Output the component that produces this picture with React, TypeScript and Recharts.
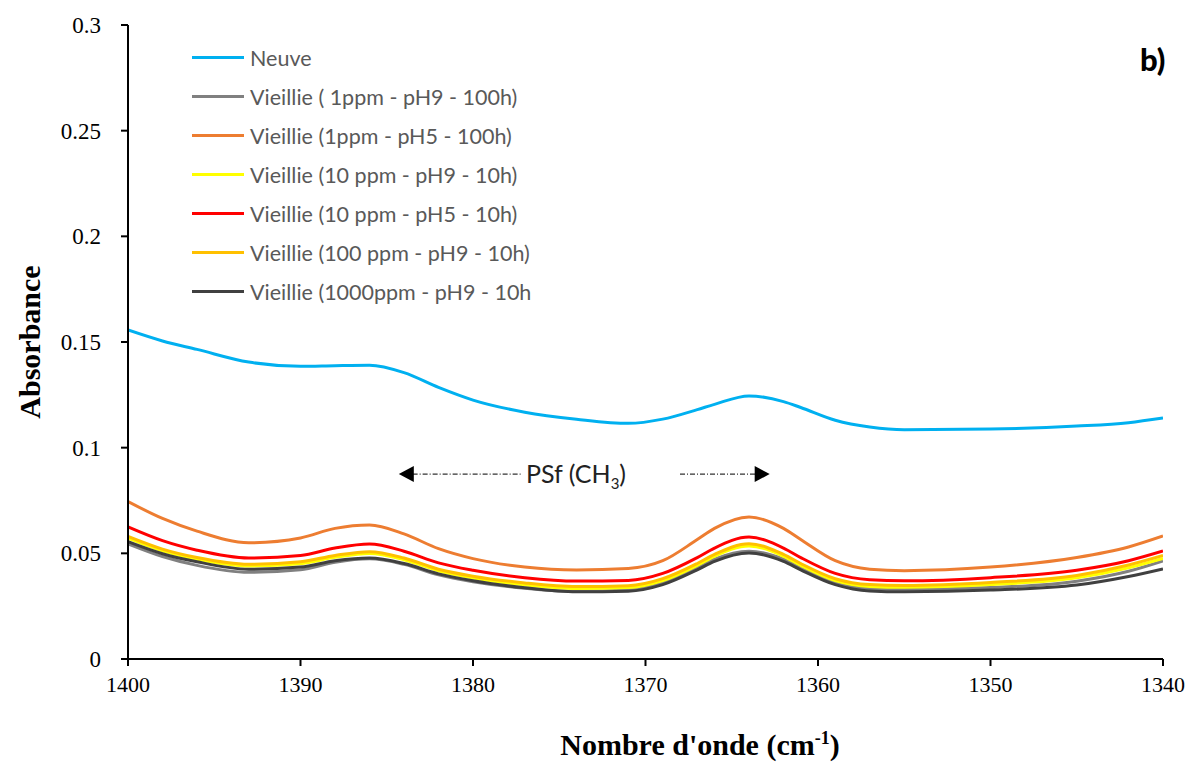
import { LineChart, Line, XAxis, YAxis, ReferenceLine, ReferenceDot } from "recharts"

// wavenumbers (cm-1)
const wavenumbers = [1400, 1398, 1396, 1393, 1390, 1388, 1386, 1384, 1382, 1380, 1377, 1374, 1371, 1369, 1367, 1366, 1364, 1362, 1361, 1359, 1357, 1355, 1350, 1345, 1342, 1340]

const neuve = [0.1557, 0.1505, 0.1465, 0.1405, 0.1385, 0.1388, 0.139, 0.1355, 0.1285, 0.1225, 0.1168, 0.1135, 0.1115, 0.1135, 0.118, 0.1205, 0.1245, 0.1218, 0.119, 0.113, 0.1098, 0.1085, 0.1088, 0.1102, 0.1118, 0.114]
const v1ppmPH9 = [0.0545, 0.0485, 0.0443, 0.041, 0.0422, 0.0458, 0.0474, 0.0448, 0.0398, 0.0366, 0.0335, 0.032, 0.0326, 0.036, 0.0432, 0.0472, 0.051, 0.0472, 0.0432, 0.0362, 0.0334, 0.033, 0.0338, 0.0368, 0.0415, 0.0464]
const v1ppmPH5 = [0.0745, 0.0665, 0.0605, 0.055, 0.0573, 0.0618, 0.0634, 0.0592, 0.0522, 0.0475, 0.0435, 0.0421, 0.0428, 0.0465, 0.0565, 0.0618, 0.0672, 0.0618, 0.0565, 0.0465, 0.0425, 0.0418, 0.0435, 0.048, 0.053, 0.0582]
const v10ppmPH9 = [0.0572, 0.0512, 0.0472, 0.044, 0.0451, 0.0481, 0.0499, 0.047, 0.0417, 0.0383, 0.0351, 0.0334, 0.0338, 0.0371, 0.0443, 0.0486, 0.0535, 0.0486, 0.0443, 0.0371, 0.0343, 0.0339, 0.0352, 0.0384, 0.0432, 0.0476]
const v10ppmPH5 = [0.0625, 0.056, 0.0515, 0.0478, 0.049, 0.0525, 0.0544, 0.051, 0.0455, 0.042, 0.0385, 0.0369, 0.0372, 0.0405, 0.048, 0.0525, 0.0577, 0.0525, 0.048, 0.0405, 0.0375, 0.037, 0.0385, 0.042, 0.0465, 0.0511]
const v100ppmPH9 = [0.058, 0.052, 0.048, 0.0448, 0.046, 0.049, 0.0508, 0.0478, 0.0425, 0.0392, 0.036, 0.0343, 0.0347, 0.038, 0.0452, 0.0495, 0.0545, 0.0495, 0.0452, 0.038, 0.0352, 0.0348, 0.0362, 0.0395, 0.0445, 0.049]
const v1000ppmPH9 = [0.0555, 0.0498, 0.046, 0.0425, 0.0435, 0.0465, 0.0478, 0.0452, 0.0403, 0.037, 0.0337, 0.0318, 0.0321, 0.0352, 0.0422, 0.0462, 0.0502, 0.0462, 0.0422, 0.0352, 0.0322, 0.0318, 0.0326, 0.035, 0.039, 0.0426]

const yTicks = [0, 0.05, 0.1, 0.15, 0.2, 0.25, 0.3]
const xTicks = [1400, 1390, 1380, 1370, 1360, 1350, 1340]

const series = [
  { key: "neuve", name: "Neuve", color: "#00B0F0", values: neuve },
  { key: "s1", name: "Vieillie ( 1ppm - pH9 - 100h)", color: "#808080", values: v1ppmPH9 },
  { key: "s2", name: "Vieillie (1ppm - pH5 - 100h)", color: "#ED7D31", values: v1ppmPH5 },
  { key: "s3", name: "Vieillie (10 ppm - pH9 - 10h)", color: "#FFFF00", values: v10ppmPH9 },
  { key: "s4", name: "Vieillie (10 ppm - pH5 - 10h)", color: "#FF0000", values: v10ppmPH5 },
  { key: "s5", name: "Vieillie (100 ppm - pH9 - 10h)", color: "#FFC000", values: v100ppmPH9 },
  { key: "s6", name: "Vieillie (1000ppm - pH9 - 10h", color: "#404040", values: v1000ppmPH9 },
]

const data = wavenumbers.map((wn, i) => {
  const row: Record<string, number> = { wn }
  series.forEach(s => { row[s.key] = s.values[i] })
  return row
})

const serif = "'Liberation Serif', 'Times New Roman', serif"
const sans = "Lato, 'Open Sans', sans-serif"

const leftArrow = (props: any) => {
  const { cx, cy } = props
  return <polygon points={`${cx},${cy} ${cx + 15},${cy - 8} ${cx + 15},${cy + 8}`} fill="#000" />
}
const rightArrow = (props: any) => {
  const { cx, cy } = props
  return <polygon points={`${cx},${cy} ${cx - 15},${cy - 8} ${cx - 15},${cy + 8}`} fill="#000" />
}

export default function App() {
  return (
    <div style={{ position: "absolute", left: 0, top: 0, width: 1194, height: 765, background: "#fff" }}>
      <LineChart width={1194} height={765} data={data} margin={{ top: 25, right: 31, left: 0, bottom: 66 }}>
        <XAxis
          dataKey="wn"
          type="number"
          domain={[1340, 1400]}
          reversed
          ticks={xTicks}
          allowDataOverflow
          height={40}
          stroke="#000"
          strokeWidth={2}
          tickSize={7}
          tick={{ fontFamily: serif, fontSize: 22, fill: "#000" }}
          tickMargin={10}
        />
        <YAxis
          type="number"
          domain={[0, 0.3]}
          ticks={yTicks}
          width={128}
          stroke="#000"
          strokeWidth={2}
          tickSize={7}
          tick={{ fontFamily: serif, fontSize: 23, fill: "#000" }}
          tickMargin={20}
        />
        {series.map(s => (
          <Line
            key={s.key}
            type="monotone"
            dataKey={s.key}
            name={s.name}
            stroke={s.color}
            strokeWidth={3}
            dot={false}
            isAnimationActive={false}
          />
        ))}
        <ReferenceLine
          segment={[{ x: 1383.5, y: 0.0875 }, { x: 1377.2, y: 0.0875 }]}
          stroke="#333"
          strokeWidth={1.3}
          strokeDasharray="5 2 1 2"
        />
        <ReferenceDot x={1384.3} y={0.0875} r={6} shape={leftArrow} />
        <ReferenceLine
          segment={[{ x: 1368, y: 0.0875 }, { x: 1363.6, y: 0.0875 }]}
          stroke="#333"
          strokeWidth={1.3}
          strokeDasharray="5 2 1 2"
        />
        <ReferenceDot x={1362.8} y={0.0875} r={6} shape={rightArrow} />
      </LineChart>
      <div style={{ position: "absolute", left: 192, top: 38, fontFamily: sans, fontSize: 21.5, color: "#595959" }}>
        {series.map(s => (
          <div key={s.key} style={{ display: "flex", alignItems: "center", height: 39 }}>
            <div style={{ width: 52, height: 3, background: s.color, marginRight: 6 }} />
            <span>{s.name}</span>
          </div>
        ))}
      </div>
      <div style={{ position: "absolute", left: 526, top: 458, fontFamily: sans, fontSize: 25, color: "#222", whiteSpace: "nowrap" }}>
        PSf (CH<sub style={{ fontSize: 15 }}>3</sub>)
      </div>
      <div style={{ position: "absolute", left: 1140, top: 40, fontFamily: sans, fontWeight: 900, fontSize: 31 }}>
        b)
      </div>
      <div
        style={{
          position: "absolute",
          left: 30,
          top: 342,
          transform: "translate(-50%, -50%) rotate(-90deg)",
          fontFamily: serif,
          fontWeight: "bold",
          fontSize: 30,
          whiteSpace: "nowrap",
        }}
      >
        Absorbance
      </div>
      <div
        style={{
          position: "absolute",
          left: 700,
          top: 745,
          transform: "translate(-50%, -50%)",
          fontFamily: serif,
          fontWeight: "bold",
          fontSize: 30,
          whiteSpace: "nowrap",
        }}
      >
        Nombre d'onde (cm<sup style={{ fontSize: 18 }}>-1</sup>)
      </div>
    </div>
  )
}
